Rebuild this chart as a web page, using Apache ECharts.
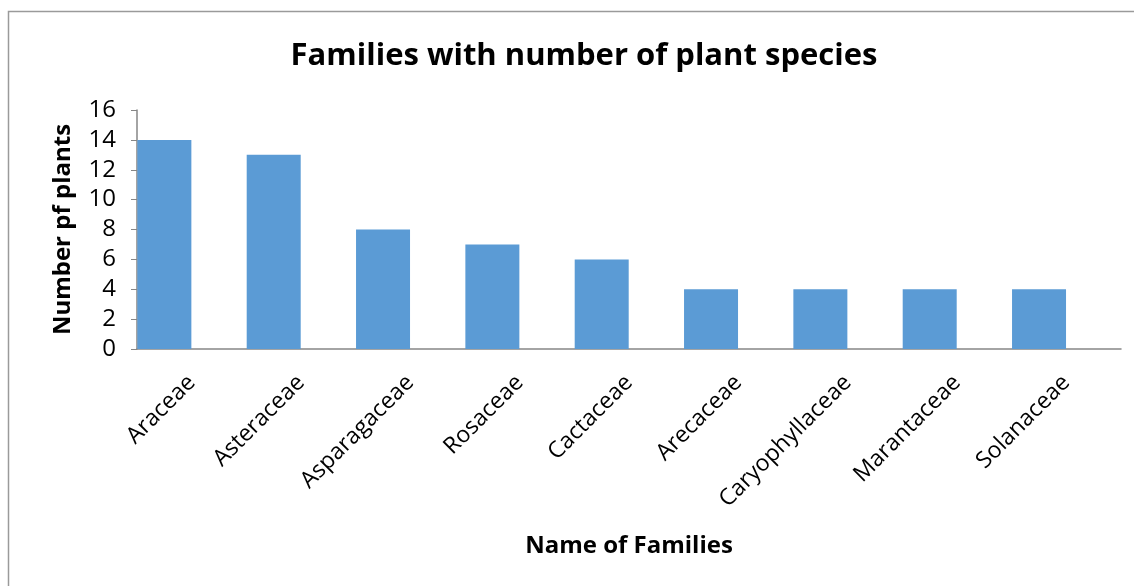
<!DOCTYPE html>
<html><head><meta charset="utf-8">
<script src="https://cdn.jsdelivr.net/npm/echarts@6/dist/echarts.min.js"></script>
<style>html,body{margin:0;padding:0;background:#fff}#c{width:1134px;height:586px}</style>
</head><body><div id="c"></div>
<script>
const categories = ["Araceae","Asteraceae","Asparagaceae","Rosaceae","Cactaceae","Arecaceae","Caryophyllaceae","Marantaceae","Solanaceae"];
const speciesCounts = [14,13,8,7,6,4,4,4,4];
const titleText = "Families with number of plant species";
const xAxisName = "Name of Families";
const yAxisName = "Number pf plants";

const chart = echarts.init(document.getElementById('c'));
const F = "'Open Sans', 'Liberation Sans', sans-serif";
const shift = 27.3;
chart.setOption({
  animation: false,
  backgroundColor: '#fff',
  title: {text: titleText, left: 579, top: 36, textAlign: 'center',
    textStyle: {fontFamily: F, fontWeight: 'bold', fontSize: 31, color: '#000'}},
  graphic: [{type: 'rect', shape: {x: 8.5, y: 11.5, width: 1200, height: 700},
    style: {fill: 'none', stroke: '#9a9a9a', lineWidth: 1.5}, silent: true, z: -1}],
  grid: [
    {left: 137, right: 13, top: 110, bottom: 237, containLabel: false},
    {left: 137 - shift, right: 13 + shift, top: 110, bottom: 237, containLabel: false}
  ],
  xAxis: [
    {type: 'category', data: categories, gridIndex: 0,
      name: xAxisName, nameLocation: 'middle', nameGap: 185,
      nameTextStyle: {fontFamily: F, fontWeight: 'bold', fontSize: 24, color: '#000'},
      axisLine: {lineStyle: {color: '#868686', width: 1.5}},
      axisTick: {show: false},
      axisLabel: {rotate: 45, interval: 0, margin: 30, fontFamily: F, fontSize: 23, color: '#000'}},
    {type: 'category', data: categories, gridIndex: 1, show: false}
  ],
  yAxis: [
    {type: 'value', min: 0, max: 16, interval: 2, gridIndex: 0,
      name: yAxisName, nameLocation: 'middle', nameGap: 62, nameRotate: 90,
      nameTextStyle: {fontFamily: F, fontWeight: 'bold', fontSize: 24, color: '#000'},
      axisLine: {show: true, lineStyle: {color: '#868686', width: 1.5}},
      axisTick: {show: true, length: 6, lineStyle: {color: '#868686'}},
      splitLine: {show: false},
      axisLabel: {margin: 21, fontFamily: F, fontSize: 24, color: '#000'}},
    {type: 'value', min: 0, max: 16, interval: 2, gridIndex: 1, show: false, splitLine: {show: false}}
  ],
  series: [{type: 'bar', data: speciesCounts, xAxisIndex: 1, yAxisIndex: 1, barWidth: 54,
    itemStyle: {color: '#5B9BD5'}}]
});
</script></body></html>
